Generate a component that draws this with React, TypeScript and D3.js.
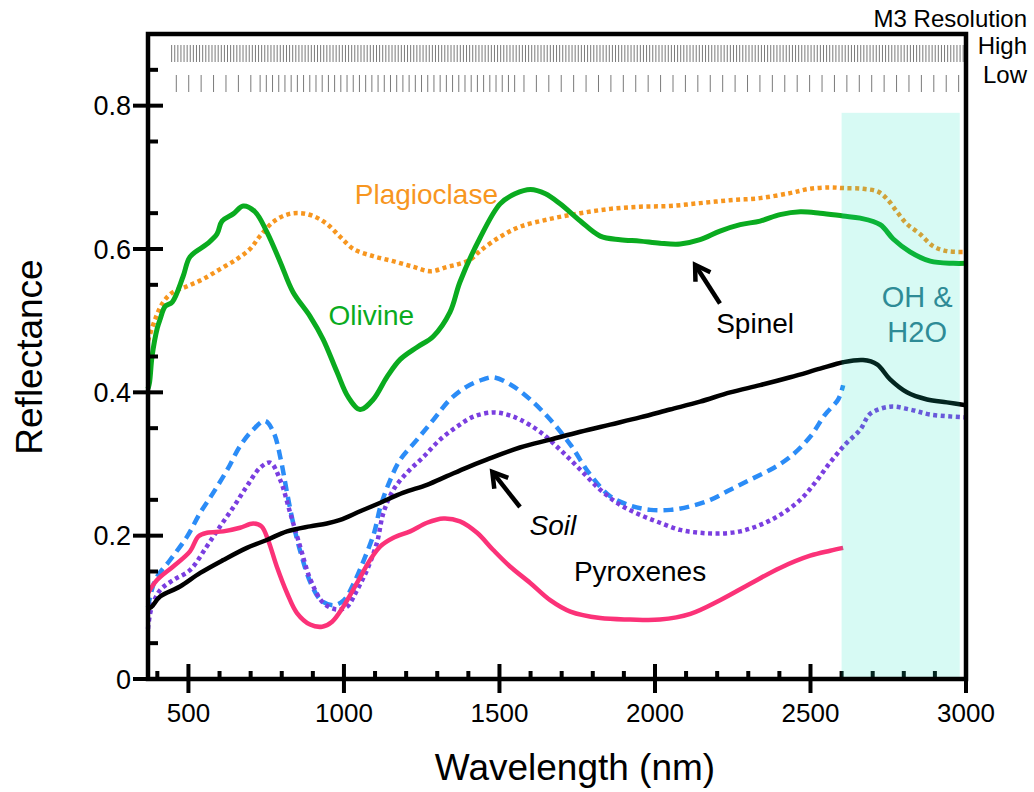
import React from "react";
import * as d3 from "d3";

// ---------- data ----------
const xTicksMajor = [500, 1000, 1500, 2000, 2500, 3000];
const yTicksMajor = [0, 0.2, 0.4, 0.6, 0.8];
const yTickLabels = ["0", "0.2", "0.4", "0.6", "0.8"];

const olivine: [number, number][] = [
  [370, 0.405], [375, 0.414], [383, 0.45], [400, 0.49], [409, 0.502], [425, 0.52], [448, 0.526],
  [483, 0.562], [505, 0.589], [560, 0.607], [592, 0.621], [608, 0.639], [644, 0.649], [676, 0.66],
  [714, 0.652], [752, 0.624], [795, 0.582], [836, 0.54], [891, 0.506], [933, 0.474], [978, 0.428],
  [1013, 0.394], [1052, 0.376], [1094, 0.39], [1139, 0.422], [1181, 0.446], [1235, 0.463],
  [1287, 0.478], [1341, 0.512], [1373, 0.554], [1437, 0.615], [1502, 0.663], [1550, 0.677],
  [1600, 0.683], [1648, 0.677], [1695, 0.663], [1760, 0.639], [1824, 0.618], [1888, 0.613],
  [1952, 0.611], [2016, 0.608], [2081, 0.607], [2145, 0.613], [2209, 0.625], [2274, 0.634],
  [2338, 0.639], [2402, 0.648], [2467, 0.652], [2531, 0.65], [2605, 0.646], [2660, 0.643],
  [2724, 0.634], [2766, 0.614], [2820, 0.596], [2885, 0.583], [2959, 0.58], [3000, 0.58],
];

const plagioclase: [number, number][] = [
  [370, 0.472], [393, 0.502], [419, 0.526], [451, 0.54], [496, 0.548], [547, 0.558], [602, 0.572],
  [656, 0.586], [698, 0.6], [730, 0.618], [773, 0.638], [817, 0.648], [859, 0.65], [901, 0.646],
  [945, 0.635], [988, 0.617], [1031, 0.6], [1094, 0.59], [1158, 0.583], [1224, 0.575],
  [1278, 0.569], [1332, 0.575], [1368, 0.579], [1406, 0.585], [1437, 0.597], [1502, 0.617],
  [1566, 0.631], [1663, 0.642], [1760, 0.65], [1856, 0.656], [1952, 0.659], [2048, 0.66],
  [2145, 0.664], [2241, 0.668], [2338, 0.671], [2434, 0.678], [2498, 0.684], [2563, 0.686],
  [2605, 0.685], [2669, 0.684], [2717, 0.68], [2746, 0.67], [2778, 0.652], [2810, 0.635],
  [2852, 0.621], [2894, 0.604], [2939, 0.597], [3000, 0.596],
];

const pyroxeneBlue: [number, number][] = [
  [370, 0.1], [393, 0.138], [441, 0.166], [496, 0.199], [538, 0.232], [580, 0.26], [625, 0.292],
  [666, 0.325], [708, 0.348], [746, 0.36], [774, 0.344], [797, 0.306], [817, 0.26], [839, 0.213],
  [861, 0.176], [893, 0.134], [926, 0.11], [967, 0.103], [1000, 0.11], [1032, 0.134],
  [1064, 0.166], [1097, 0.204], [1117, 0.24], [1149, 0.278], [1181, 0.306], [1235, 0.334],
  [1288, 0.362], [1341, 0.39], [1395, 0.408], [1448, 0.418], [1480, 0.421], [1535, 0.411],
  [1599, 0.39], [1663, 0.362], [1728, 0.327], [1792, 0.285], [1856, 0.255], [1920, 0.242],
  [1985, 0.236], [2050, 0.236], [2114, 0.241], [2178, 0.25], [2242, 0.264], [2306, 0.278],
  [2371, 0.292], [2435, 0.31], [2499, 0.338], [2547, 0.369], [2589, 0.39], [2605, 0.41],
];

const pyroxenePurple: [number, number][] = [
  [370, 0.07], [380, 0.097], [409, 0.124], [451, 0.138], [505, 0.152], [559, 0.185], [602, 0.213],
  [645, 0.24], [688, 0.269], [731, 0.295], [763, 0.302], [795, 0.278], [827, 0.232], [859, 0.185],
  [893, 0.138], [934, 0.106], [977, 0.097], [1010, 0.101], [1042, 0.124], [1074, 0.152],
  [1106, 0.19], [1127, 0.232], [1159, 0.264], [1203, 0.288], [1256, 0.31], [1309, 0.334],
  [1363, 0.352], [1416, 0.366], [1480, 0.372], [1524, 0.369], [1566, 0.362], [1630, 0.345],
  [1695, 0.32], [1760, 0.292], [1824, 0.264], [1888, 0.243], [1952, 0.229], [2016, 0.218],
  [2081, 0.208], [2145, 0.204], [2209, 0.203], [2274, 0.206], [2338, 0.215], [2402, 0.229],
  [2467, 0.25], [2515, 0.274], [2563, 0.302], [2611, 0.327], [2660, 0.348], [2692, 0.37],
  [2756, 0.38], [2820, 0.376], [2885, 0.369], [3000, 0.365],
];

const pyroxenePink: [number, number][] = [
  [370, 0.12], [399, 0.138], [451, 0.157], [505, 0.178], [532, 0.199], [560, 0.204], [612, 0.206],
  [666, 0.211], [708, 0.217], [735, 0.213], [756, 0.194], [784, 0.157], [817, 0.12], [849, 0.092],
  [891, 0.076], [930, 0.073], [962, 0.08], [998, 0.101], [1042, 0.134], [1084, 0.166],
  [1117, 0.185], [1159, 0.197], [1213, 0.206], [1267, 0.218], [1320, 0.224], [1373, 0.22],
  [1428, 0.204], [1480, 0.18], [1534, 0.157], [1599, 0.134], [1663, 0.11], [1728, 0.094],
  [1824, 0.085], [1920, 0.083], [2016, 0.083], [2114, 0.091], [2209, 0.11], [2306, 0.133],
  [2402, 0.155], [2499, 0.172], [2563, 0.179], [2605, 0.183],
];

const soil: [number, number][] = [
  [370, 0.098], [380, 0.1], [409, 0.115], [473, 0.129], [538, 0.148], [612, 0.166], [688, 0.183],
  [752, 0.194], [817, 0.206], [891, 0.213], [945, 0.217], [988, 0.222], [1052, 0.234],
  [1117, 0.246], [1191, 0.26], [1267, 0.271], [1331, 0.283], [1395, 0.295], [1459, 0.306],
  [1566, 0.323], [1663, 0.334], [1760, 0.345], [1856, 0.355], [1952, 0.365], [2048, 0.376],
  [2145, 0.387], [2242, 0.4], [2338, 0.41], [2435, 0.421], [2531, 0.433], [2605, 0.442],
  [2669, 0.445], [2714, 0.439], [2756, 0.418], [2810, 0.4], [2875, 0.39], [2939, 0.386],
  [3000, 0.382],
];

// M3 band centres (nm): target (high) mode and global (low) mode
const m3High = d3.range(446, 3000, 9.98);
const m3Low = [
  ...d3.range(460.99, 702, 39.93),
  ...d3.range(730.48, 1550, 19.96),
  ...d3.range(1578.8, 2980, 39.93),
];

// OH & H2O band region
const ohRegion = { x0: 2600, x1: 2980, top: 0.79 };

// ---------- layout ----------
const W = 1034;
const H = 792;
const left = 148;
const right = 966;
const top = 34;
const bottom = 679;
const FONT = "'Liberation Sans', Arial, Helvetica, sans-serif";

const x = d3.scaleLinear().domain([370, 3000]).range([left, right]);
const y = d3.scaleLinear().domain([0, 0.9]).range([bottom, top]);

const line = d3
  .line<[number, number]>()
  .x((d) => x(d[0]))
  .y((d) => y(d[1]))
  .curve(d3.curveCatmullRom.alpha(0.5));

function Arrow({ head, tail }: { head: [number, number]; tail: [number, number] }) {
  const hx = x(head[0]), hy = y(head[1]);
  const tx = x(tail[0]), ty = y(tail[1]);
  const ang = Math.atan2(ty - hy, tx - hx);
  const L = 17, spread = 0.55;
  const a1 = [hx + L * Math.cos(ang + spread), hy + L * Math.sin(ang + spread)];
  const a2 = [hx + L * Math.cos(ang - spread), hy + L * Math.sin(ang - spread)];
  return (
    <g stroke="#000" strokeWidth={4.5} fill="none" strokeLinecap="butt">
      <line x1={tx} y1={ty} x2={hx + 2 * Math.cos(ang)} y2={hy + 2 * Math.sin(ang)} />
      <path d={`M${a1[0]},${a1[1]} L${hx},${hy} L${a2[0]},${a2[1]}`} strokeLinejoin="miter" />
    </g>
  );
}

export default function App() {
  const minorX = d3.range(400, 3000, 100).filter((v) => v % 500 !== 0);
  const minorY = d3.range(0.05, 0.9, 0.1);

  return (
    <svg
      width={W}
      height={H}
      viewBox={`0 0 ${W} ${H}`}
      style={{ position: "absolute", left: 0, top: 0, background: "#fff" }}
      fontFamily={FONT}
    >
      {/* M3 resolution bands */}
      <g stroke="#7a7a7a" strokeWidth={1}>
        {m3High.map((v, i) => (
          <line key={"h" + i} x1={x(v)} x2={x(v)} y1={45} y2={62} />
        ))}
        {m3Low.map((v, i) => (
          <line key={"l" + i} x1={x(v)} x2={x(v)} y1={75} y2={92} />
        ))}
      </g>
      <text x={1027} y={27} textAnchor="end" fontSize={24} fill="#000">M3 Resolution</text>
      <text x={1027} y={54} textAnchor="end" fontSize={24} fill="#000">High</text>
      <text x={1027} y={83} textAnchor="end" fontSize={24} fill="#000">Low</text>

      {/* curves */}
      <g fill="none" strokeLinejoin="round">
        <path d={line(plagioclase)!} stroke="#f7961f" strokeWidth={4.5} strokeDasharray="4 3.5" />
        <path d={line(olivine)!} stroke="#0aab1f" strokeWidth={5} />
        <path d={line(pyroxeneBlue)!} stroke="#2b8cf7" strokeWidth={4.5} strokeDasharray="10 6" />
        <path d={line(pyroxenePurple)!} stroke="#7a3ee0" strokeWidth={4.5} strokeDasharray="4 3.5" />
        <path d={line(pyroxenePink)!} stroke="#fb3278" strokeWidth={4.5} />
        <path d={line(soil)!} stroke="#000" strokeWidth={4.5} />
      </g>

      {/* axis ticks */}
      <g stroke="#000" strokeWidth={4}>
        {xTicksMajor.map((v) => (
          <line key={"xM" + v} x1={x(v)} x2={x(v)} y1={bottom - 15} y2={bottom + 14} />
        ))}
        {minorX.map((v) => (
          <line key={"xm" + v} x1={x(v)} x2={x(v)} y1={bottom - 8} y2={bottom} />
        ))}
        {yTicksMajor.map((v) => (
          <line key={"yM" + v} x1={left - 15} x2={left + 15} y1={y(v)} y2={y(v)} />
        ))}
        {minorY.map((v) => (
          <line key={"ym" + v} x1={left} x2={left + 10} y1={y(v)} y2={y(v)} />
        ))}
      </g>

      {/* OH & H2O region overlay */}
      <rect
        x={x(ohRegion.x0)}
        y={y(ohRegion.top)}
        width={x(ohRegion.x1) - x(ohRegion.x0)}
        height={bottom - 2 - y(ohRegion.top)}
        fill="rgb(20,228,190)"
        fillOpacity={0.17}
      />

      {/* frame */}
      <path
        d={`M${left},${top} H${right} V${bottom} H${left} Z`}
        fill="none"
        stroke="#000"
        strokeWidth={4.5}
      />

      {/* tick labels */}
      {xTicksMajor.map((v) => (
        <text key={"xl" + v} x={x(v)} y={722} textAnchor="middle" fontSize={26} fill="#000">
          {v}
        </text>
      ))}
      {yTicksMajor.map((v, i) => (
        <text key={"yl" + v} x={131} y={y(v) + 9.5} textAnchor="end" fontSize={27} fill="#000">
          {yTickLabels[i]}
        </text>
      ))}

      {/* axis titles */}
      <text x={575} y={780} textAnchor="middle" fontSize={37} fill="#000">
        Wavelength (nm)
      </text>
      <text
        transform={`translate(42,357) rotate(-90)`}
        textAnchor="middle"
        fontSize={37}
        fill="#000"
      >
        Reflectance
      </text>

      {/* annotations */}
      <text x={x(1265)} y={y(0.663)} textAnchor="middle" fontSize={28} fill="#f7961f">Plagioclase</text>
      <text x={x(1088)} y={y(0.494)} textAnchor="middle" fontSize={28} fill="#0aab1f">Olivine</text>
      <text x={x(2322)} y={y(0.483)} textAnchor="middle" fontSize={28} fill="#000">Spinel</text>
      <text x={x(1672)} y={y(0.201)} textAnchor="middle" fontSize={28} fill="#000" fontStyle="italic">Soil</text>
      <text x={x(1952)} y={y(0.137)} textAnchor="middle" fontSize={28} fill="#000">Pyroxenes</text>
      <text x={x(2843)} y={y(0.519)} textAnchor="middle" fontSize={29} fill="#2e8b96">OH &amp;</text>
      <text x={x(2843)} y={y(0.47)} textAnchor="middle" fontSize={29} fill="#2e8b96">H2O</text>

      <Arrow head={[2129, 0.578]} tail={[2209, 0.524]} />
      <Arrow head={[1477, 0.289]} tail={[1566, 0.24]} />
    </svg>
  );
}
